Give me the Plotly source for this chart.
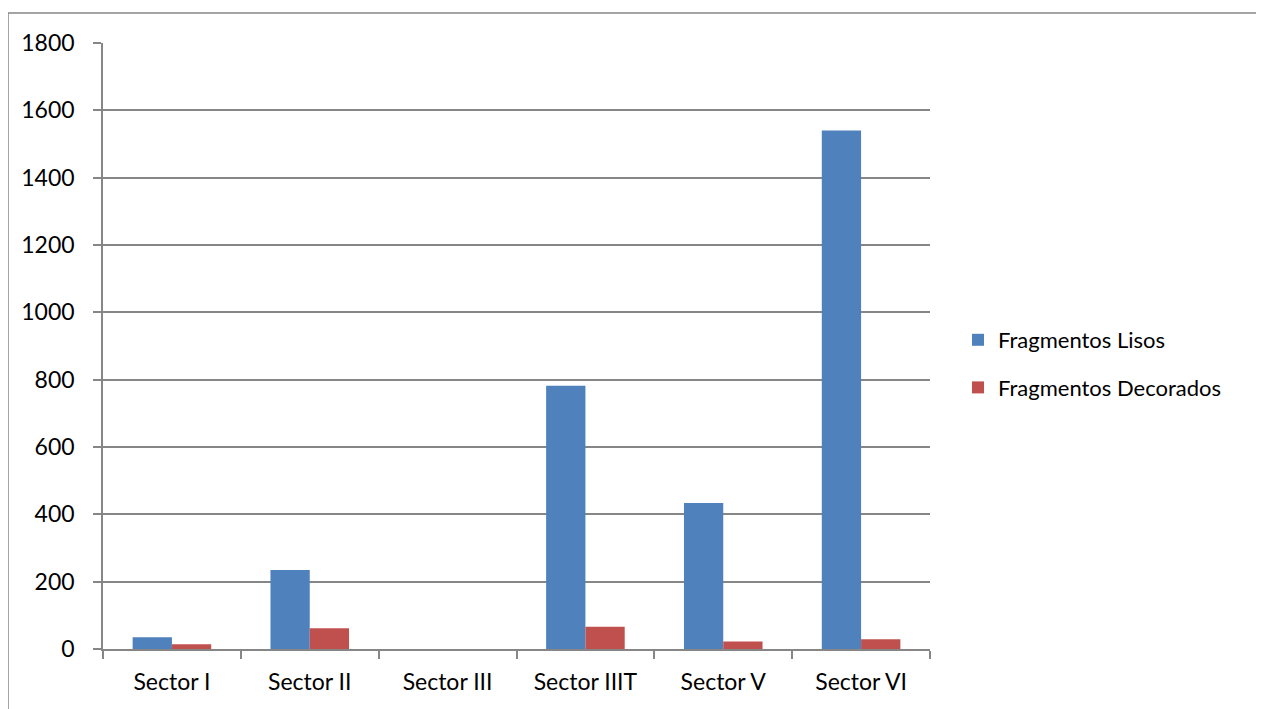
import plotly.graph_objects as go

# data
sectors = ["Sector I", "Sector II", "Sector III", "Sector IIIT", "Sector V", "Sector VI"]
lisos = [35, 235, 0, 782, 434, 1540]
decorados = [14, 62, 0, 66, 22, 29]
y_ticks = [0, 200, 400, 600, 800, 1000, 1200, 1400, 1600, 1800]

# page body adds an 8px margin, so the figure is sized to fill the rest
W, H = 1256, 701
L, R, T, B = 95, 334, 35, 60
pw, ph = W - L - R, H - T - B

fnt = dict(family="Lato, 'Open Sans', sans-serif", size=23, color="#000000")

fig = go.Figure()
fig.add_trace(go.Bar(x=sectors, y=lisos, name="Fragmentos Lisos",
                     marker=dict(color="#4F81BD", line=dict(width=0)),
                     legendgroup="a"))
fig.add_trace(go.Bar(x=sectors, y=decorados, name="Fragmentos Decorados",
                     marker=dict(color="#C0504D", line=dict(width=0)),
                     legendgroup="b"))

fig.update_layout(
    width=W, height=H,
    margin=dict(l=L, r=R, t=T, b=B, autoexpand=False),
    paper_bgcolor="white", plot_bgcolor="white",
    barmode="group", bargap=0.43, bargroupgap=0,
    font=fnt,
    legend=dict(x=(950 - L) / pw, xanchor="left", y=(641 - 356) / ph, yanchor="middle",
                traceorder="grouped", tracegroupgap=16,
                font=dict(size=22), itemwidth=30, bgcolor="rgba(0,0,0,0)"),
)
fig.update_xaxes(showline=True, linecolor="#868686", linewidth=1.5,
                 ticks="outside", tickson="boundaries", ticklen=8,
                 tickcolor="#868686", tickwidth=1.5, showgrid=False,
                 ticklabelstandoff=12, tickfont=fnt)
fig.update_yaxes(range=[0, 1800], tickvals=y_ticks, showline=True,
                 linecolor="#868686", linewidth=1.5,
                 ticks="outside", ticklen=8, tickcolor="#868686", tickwidth=1.5,
                 showgrid=True, gridcolor="#868686", gridwidth=1.5,
                 zeroline=False, ticklabelstandoff=14, tickfont=fnt)

# chart outer border (right and bottom edges run off the page)
fig.add_shape(type="rect", xref="paper", yref="paper",
              x0=(0 - L) / pw, x1=(W + 20 - L) / pw,
              y0=-(B + 20) / ph, y1=1 + (T - 5) / ph,
              line=dict(color="#868686", width=1.5), fillcolor="rgba(0,0,0,0)",
              layer="below")

fig.write_html("out.html")
